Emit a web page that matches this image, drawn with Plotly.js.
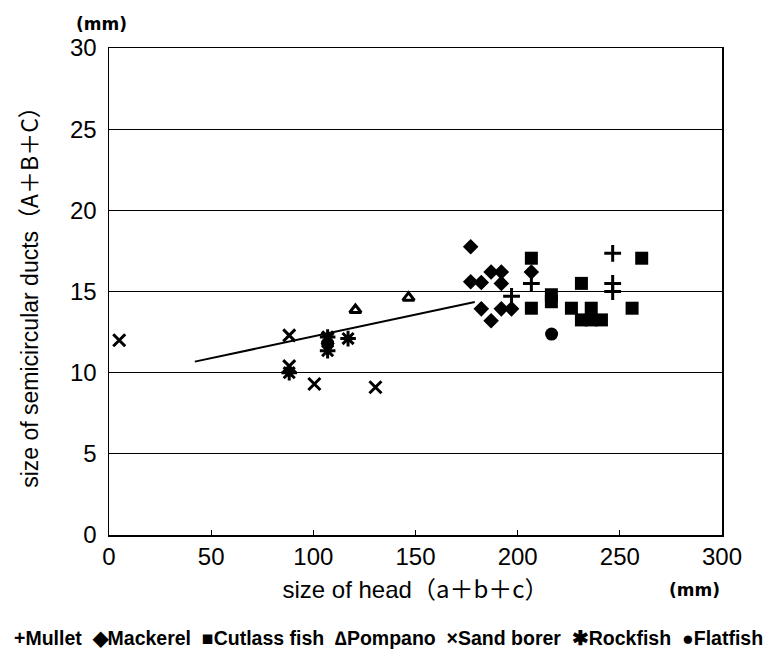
<!DOCTYPE html>
<html>
<head>
<meta charset="utf-8">
<script src="https://cdn.plot.ly/plotly-3.0.1.min.js"></script>
<style>html,body{margin:0;padding:0;background:#fff;}#chart{width:779px;height:652px;}</style>
</head>
<body>
<div id="chart"></div>
<script>
// Data
const mulletX = [197, 206.7, 246.5, 246.5, 246.5];
const mulletY = [14.7, 15.5, 17.35, 15.5, 15.0];

const mackerelX = [177, 177, 182.2, 187, 192, 192, 182.2, 187, 192, 197, 206.7];
const mackerelY = [17.76, 15.6, 15.55, 16.2, 16.2, 15.5, 13.93, 13.2, 13.93, 13.93, 16.2];

const cutlassX = [206.7, 206.7, 216.5, 216.5, 226.3, 231.2, 231.2, 236, 236, 241, 256, 260.7];
const cutlassY = [17.05, 13.97, 14.8, 14.37, 13.97, 15.5, 13.25, 13.97, 13.25, 13.25, 13.97, 17.05];

const pompanoX = [120.6, 146.6];
const pompanoY = [13.86, 14.62];

const sandX = [5, 88.2, 88.2, 100.5, 130.4, 107];
const sandY = [12.0, 12.3, 10.4, 9.3, 9.1, 12.1];

const rockX = [88.2, 107, 107, 117];
const rockY = [10.0, 12.2, 11.35, 12.1];

const flatX = [107, 216.6];
const flatY = [11.8, 12.38];

const trendX = [42, 179];
const trendY = [10.68, 14.35];

const xTicks = [0, 50, 100, 150, 200, 250, 300];
const yTicks = [0, 5, 10, 15, 20, 25, 30];

const seriesNames = ['Mullet', 'Mackerel', 'Cutlass fish', 'Pompano', 'Sand borer', 'Rockfish', 'Flatfish'];
const legendGlyphs = ['+', '◆', '■', '∆', '×', '✱', '●'];

const K = '#000';
const CJK = 'font-family:\'Noto Sans CJK JP\'';
function mk(name, x, y, symbol, size, lw) {
  return {
    type: 'scatter', mode: 'markers', name: name, x: x, y: y,
    marker: {symbol: symbol, size: size, color: K, line: {color: K, width: lw}},
    cliponaxis: false, showlegend: false
  };
}

const traces = [
  {type: 'scatter', mode: 'lines', x: trendX, y: trendY, line: {color: K, width: 2}, showlegend: false, hoverinfo: 'skip'},
  mk(seriesNames[0], mulletX, mulletY, 'cross-thin-open', 12, 3),
  mk(seriesNames[1], mackerelX, mackerelY, 'diamond', 12, 0),
  mk(seriesNames[2], cutlassX, cutlassY, 'square', 13, 0),
  mk(seriesNames[3], pompanoX, pompanoY, 'triangle-up-open', 10, 3),
  mk(seriesNames[4], sandX, sandY, 'x-thin-open', 12, 3),
  mk(seriesNames[5], rockX, rockY, 'asterisk-open', 13, 3),
  mk(seriesNames[6], flatX, flatY, 'circle', 13, 0)
];

const legendText = seriesNames.map((n, i) => legendGlyphs[i] + n).join('&nbsp;&nbsp;');

const layout = {
  width: 779, height: 652,
  margin: {l: 109, r: 57, t: 48, b: 117},
  paper_bgcolor: '#fff', plot_bgcolor: '#fff',
  font: {family: 'Liberation Sans, Arial, sans-serif', color: K},
  showlegend: false,
  xaxis: {
    range: [0, 300], tickvals: xTicks, ticktext: xTicks.map(String),
    showgrid: false, zeroline: false, automargin: false,
    showline: true, linecolor: K, linewidth: 1.5, mirror: true,
    ticks: 'inside', ticklen: 5, tickcolor: K,
    tickfont: {size: 24}, ticklabelstandoff: 0,
    title: {text: 'size of head<span style="' + CJK + '">（a＋b＋c）</span>', font: {size: 24}, standoff: 5}
  },
  yaxis: {
    range: [0, 30], tickvals: yTicks, ticktext: yTicks.map(String),
    showgrid: true, gridcolor: K, gridwidth: 1, zeroline: false, automargin: false,
    showline: true, linecolor: K, linewidth: 1.5, mirror: true,
    ticks: '', tickfont: {size: 24}, ticklabelstandoff: 6,
    title: {text: 'size of semicircular ducts<span style="' + CJK + '">（A＋B＋C）</span>', font: {size: 23}, standoff: 25}
  },
  annotations: [
    {text: '<b>(mm)</b>', xref: 'paper', yref: 'paper', x: -0.012, y: 1, xanchor: 'center', yanchor: 'bottom', showarrow: false, font: {size: 17, family: 'DejaVu Sans'}, yshift: 12},
    {text: '<b>(mm)</b>', xref: 'paper', yref: 'paper', x: 0.955, y: 0, xanchor: 'center', yanchor: 'middle', showarrow: false, font: {size: 17, family: 'DejaVu Sans'}, yshift: -55},
    {text: '<b>' + legendText + '</b>', xref: 'paper', yref: 'paper', x: 0.5, y: 0, xanchor: 'center', yanchor: 'middle', showarrow: false, font: {size: 19.5}, yshift: -103, xshift: -27}
  ]
};

Plotly.newPlot('chart', traces, layout, {displayModeBar: false, staticPlot: true});
</script>
</body>
</html>
